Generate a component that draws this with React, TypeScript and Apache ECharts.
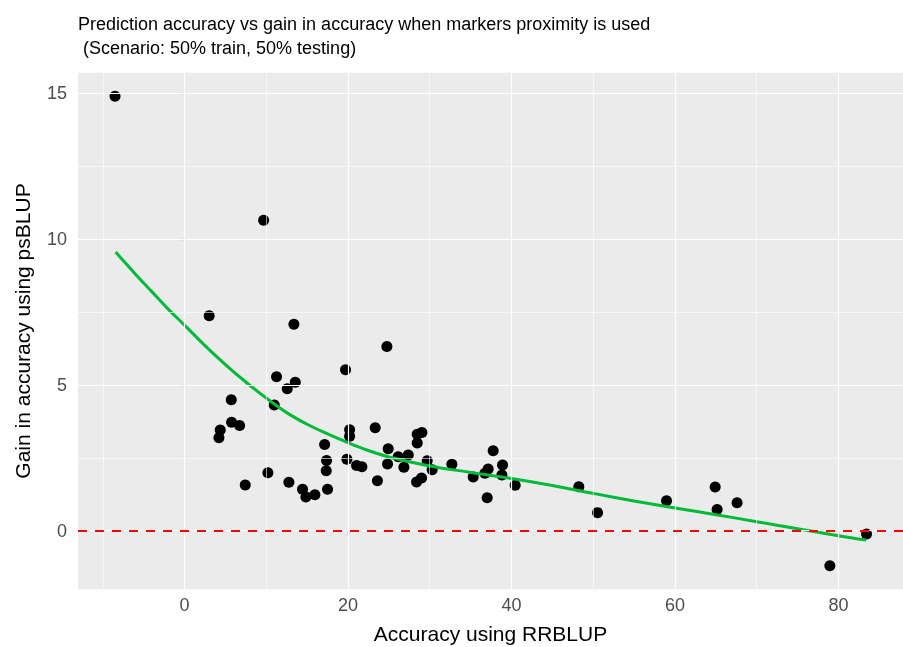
import React, { useEffect, useRef } from "react";
import * as echarts from "echarts";

// Observed points: accuracy using RRBLUP (x) vs gain in accuracy using psBLUP (y)
const accuracy = [
  -8.5, 9.68, 3.02, 13.38, 19.7, 24.76, 11.26, 13.55, 12.57, 5.72, 10.98, 5.76, 6.74, 4.37, 4.21,
  17.14, 20.2, 20.2, 23.33, 17.38, 17.34, 19.87, 21.05, 21.7, 10.2, 7.43, 12.77, 14.44, 14.85, 15.95,
  17.5, 23.6, 24.92, 24.84, 26.14, 26.84, 27.37, 28.47, 29.04, 28.47, 29.69, 30.3, 28.39, 29.0, 32.71,
  35.32, 36.75, 37.15, 37.76, 38.91, 38.83, 37.03, 40.45, 48.24, 50.53, 58.97, 64.92, 65.16, 67.6,
  78.95, 83.44,
];
const gain = [
  14.9, 10.65, 7.37, 7.08, 5.52, 6.32, 5.28, 5.09, 4.87, 4.49, 4.31, 3.72, 3.61, 3.45, 3.19,
  2.96, 3.46, 3.24, 3.53, 2.41, 2.06, 2.45, 2.24, 2.19, 1.99, 1.57, 1.66, 1.42, 1.16, 1.23,
  1.42, 1.71, 2.81, 2.29, 2.54, 2.18, 2.6, 3.31, 3.37, 3.01, 2.4, 2.09, 1.67, 1.81, 2.28,
  1.84, 1.97, 2.12, 2.74, 2.25, 1.91, 1.13, 1.56, 1.51, 0.62, 1.03, 1.5, 0.73, 0.96,
  -1.2, -0.11,
];

// Fitted trend curve
const fitX = [-8.43, -6, -4, -2, 0, 2.5, 5, 7.5, 10, 12.5, 15, 17.5, 20, 22.5, 25, 30, 35, 40, 45, 50, 55, 60, 65, 70, 75, 80, 83.4];
const fitY = [9.56, 8.8, 8.2, 7.6, 7.05, 6.35, 5.7, 5.1, 4.55, 4.05, 3.65, 3.32, 3.02, 2.75, 2.53, 2.22, 2.0, 1.79, 1.55, 1.28, 1.02, 0.78, 0.55, 0.31, 0.07, -0.17, -0.32];

const xTicks = [0, 20, 40, 60, 80];
const yTicks = [0, 5, 10, 15];
const xMinor = [-10, 10, 30, 50, 70];
const yMinor = [2.5, 7.5, 12.5];
const refLine = [0];

const FONT = "'Liberation Sans', Arial, Helvetica, sans-serif";

export default function App() {
  const ref = useRef<HTMLDivElement>(null);
  useEffect(() => {
    const chart = echarts.init(ref.current!, null, { renderer: "svg" });
    const points = accuracy.map((x, i) => [x, gain[i]]);
    const fit = fitX.map((x, i) => [x, fitY[i]]);
    chart.setOption({
      animation: false,
      title: {
        text: "Prediction accuracy vs gain in accuracy when markers proximity is used\n (Scenario: 50% train, 50% testing)",
        left: 78,
        top: 12,
        padding: 0,
        textStyle: { fontSize: 18, fontWeight: "normal", color: "#000", lineHeight: 24, fontFamily: FONT },
      },
      grid: {
        left: 78,
        right: 0,
        top: 72.7,
        bottom: 57.7,
        show: true,
        backgroundColor: "#EBEBEB",
        borderWidth: 0,
        outerBoundsMode: "none",
        containLabel: false,
      },
      xAxis: {
        type: "value",
        min: -13.03,
        max: 87.9,
        name: "Accuracy using RRBLUP",
        nameLocation: "middle",
        nameGap: 34,
        nameTextStyle: { fontSize: 21, color: "#000", fontFamily: FONT },
        axisLine: { show: false },
        splitLine: { show: false },
        axisTick: { show: true, customValues: xTicks, length: 5, lineStyle: { color: "#333", width: 1.1 } },
        axisLabel: { customValues: xTicks, color: "#4D4D4D", fontSize: 18, margin: 7, fontFamily: FONT },
      },
      yAxis: {
        type: "value",
        min: -2.01,
        max: 15.71,
        name: "Gain in accuracy using psBLUP",
        nameLocation: "middle",
        nameGap: 45,
        nameTextStyle: { fontSize: 21, color: "#000", fontFamily: FONT },
        axisLine: { show: false },
        splitLine: { show: false },
        axisTick: { show: true, customValues: yTicks, length: 5, lineStyle: { color: "#333", width: 1.1 } },
        axisLabel: { customValues: yTicks, color: "#4D4D4D", fontSize: 18, margin: 11, fontFamily: FONT },
      },
      series: [
        {
          type: "line",
          data: [],
          z: 1,
          silent: true,
          markLine: {
            silent: true,
            symbol: ["none", "none"],
            label: { show: false },
            lineStyle: { color: "#FFFFFF", width: 0.6, type: "solid" },
            data: [...xMinor.map((v) => ({ xAxis: v })), ...yMinor.map((v) => ({ yAxis: v }))],
          },
        },
        {
          type: "line",
          data: [],
          z: 2,
          silent: true,
          markLine: {
            silent: true,
            symbol: ["none", "none"],
            label: { show: false },
            lineStyle: { color: "#FFFFFF", width: 1.2, type: "solid" },
            data: [...xTicks.map((v) => ({ xAxis: v })), ...yTicks.map((v) => ({ yAxis: v }))],
          },
        },
        {
          type: "scatter",
          data: points,
          z: 3,
          symbol: "circle",
          symbolSize: 11,
          itemStyle: { color: "#000000", opacity: 1 },
        },
        {
          type: "line",
          data: fit,
          z: 4,
          smooth: 0.4,
          showSymbol: false,
          lineStyle: { color: "#00BA38", width: 3 },
        },
        {
          type: "line",
          data: [],
          z: 5,
          silent: true,
          markLine: {
            silent: true,
            symbol: ["none", "none"],
            label: { show: false },
            lineStyle: { color: "#FF0000", width: 1.8, type: [9, 8] },
            data: refLine.map((v) => ({ yAxis: v })),
          },
        },
      ],
    });
    return () => chart.dispose();
  }, []);
  return <div ref={ref} style={{ position: "fixed", left: 0, top: 0, width: 903, height: 647 }} />;
}
